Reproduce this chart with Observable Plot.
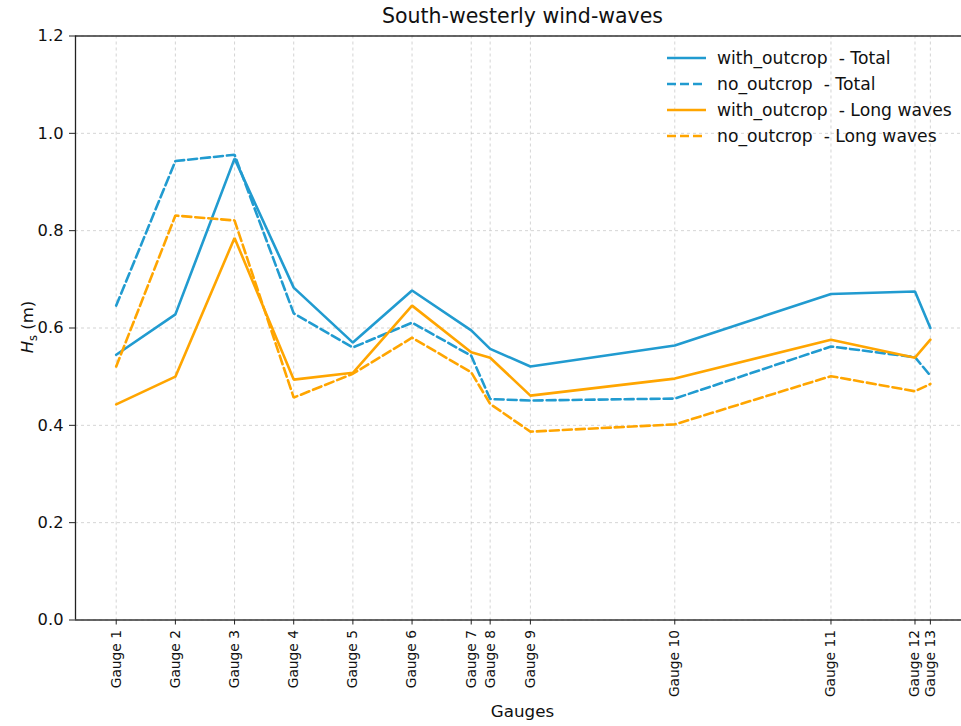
<!DOCTYPE html>
<html>
<head>
<meta charset="utf-8">
<script src="https://cdn.jsdelivr.net/npm/d3@7"></script>
<script src="https://cdn.jsdelivr.net/npm/@observablehq/plot@0.6"></script>
<style>
  body { margin: 0; background: #fff; font-family: "DejaVu Sans", sans-serif; }
  #wrap { position: relative; width: 961px; height: 726px; overflow: hidden; }
  #title { position: absolute; left: 75px; width: 895px; top: 4px; text-align: center; font-size: 20.5px; color: #111; }
  #ylab { position: absolute; left: 29px; top: 327px; transform: translate(-50%, -50%) rotate(-90deg); font-size: 16.5px; white-space: nowrap; color: #111; }
  #ylab sub { font-size: 11.5px; }
  #xlab { position: absolute; left: 75px; width: 895px; top: 701px; text-align: center; font-size: 16.7px; color: #111; }
  #legend { position: absolute; left: 667px; top: 45px; font-size: 17.2px; color: #111; }
  .row { height: 26px; display: flex; align-items: center; white-space: pre; }
  .row svg { margin-right: 11px; }
</style>
</head>
<body>
<div id="wrap">
  <div id="chart"></div>
  <div id="title">South-westerly wind-waves</div>
  <div id="ylab"><i>H</i><sub>s</sub> (m)</div>
  <div id="xlab">Gauges</div>
  <div id="legend"></div>
</div>
<script>
// ---- data ----
const gauges = ["Gauge 1","Gauge 2","Gauge 3","Gauge 4","Gauge 5","Gauge 6","Gauge 7","Gauge 8","Gauge 9","Gauge 10","Gauge 11","Gauge 12","Gauge 13"];
const gaugePos = [0, 1, 2, 3, 4, 5, 6, 6.32, 7, 9.44, 12.08, 13.5, 13.76];
const withOutcropTotal = [0.545, 0.628, 0.948, 0.683, 0.570, 0.677, 0.595, 0.557, 0.521, 0.564, 0.670, 0.675, 0.600];
const noOutcropTotal   = [0.646, 0.943, 0.956, 0.630, 0.560, 0.611, 0.543, 0.454, 0.451, 0.455, 0.562, 0.540, 0.502];
const withOutcropLong  = [0.443, 0.500, 0.785, 0.494, 0.508, 0.646, 0.550, 0.539, 0.461, 0.496, 0.576, 0.539, 0.576];
const noOutcropLong    = [0.521, 0.831, 0.821, 0.457, 0.506, 0.580, 0.509, 0.444, 0.387, 0.402, 0.501, 0.470, 0.485];
const yTicks = [0, 0.2, 0.4, 0.6, 0.8, 1.0, 1.2];
const seriesNames = ["with_outcrop  - Total", "no_outcrop  - Total", "with_outcrop  - Long waves", "no_outcrop  - Long waves"];

const BLUE = "#219bd0";
const ORANGE = "#ffa500";
const series = [
  {name: seriesNames[0], values: withOutcropTotal, color: BLUE, dash: null},
  {name: seriesNames[1], values: noOutcropTotal, color: BLUE, dash: "9,4"},
  {name: seriesNames[2], values: withOutcropLong, color: ORANGE, dash: null},
  {name: seriesNames[3], values: noOutcropLong, color: ORANGE, dash: "9,4"}
];
const nameAt = new Map(gaugePos.map((p, i) => [p, gauges[i]]));
const xMin = -0.688, xMax = 14.286;

const lineMarks = series.map(s => Plot.line(
  s.values.map((v, i) => ({x: gaugePos[i], y: v})),
  {x: "x", y: "y", stroke: s.color, strokeWidth: 2.6, strokeDasharray: s.dash || undefined, strokeLinejoin: "miter"}
));

const chart = Plot.plot({
  width: 961,
  height: 726,
  marginTop: 35.5,
  marginBottom: 106.5,
  marginLeft: 75,
  marginRight: 0,
  style: {fontFamily: "DejaVu Sans, sans-serif", color: "#111", background: "white"},
  x: {domain: [xMin, xMax]},
  y: {domain: [0, 1.2]},
  marks: [
    Plot.gridX(gaugePos, {stroke: "#bbb", strokeOpacity: 0.8, strokeDasharray: "3,3", strokeWidth: 0.8}),
    Plot.gridY(yTicks, {stroke: "#bbb", strokeOpacity: 0.8, strokeDasharray: "3,3", strokeWidth: 0.8}),
    ...lineMarks,
    Plot.ruleY([0, 1.2], {stroke: "#333", strokeWidth: 1.3}),
    Plot.ruleX([xMin], {stroke: "#222", strokeWidth: 1.3}),
    Plot.axisY({ticks: yTicks, tickFormat: d3.format(".1f"), tickSize: 6, tickPadding: 6, fontSize: 16.3, label: null, stroke: "#222"}),
    Plot.axisX({ticks: gaugePos, tickFormat: d => nameAt.get(d), tickRotate: -90, tickSize: 5, tickPadding: 5, fontSize: 13.8, label: null, stroke: "#222"})
  ]
});
document.getElementById("chart").appendChild(chart);

// legend
const leg = document.getElementById("legend");
series.forEach(s => {
  const row = document.createElement("div");
  row.className = "row";
  const dash = s.dash ? ` stroke-dasharray="9,4"` : "";
  row.innerHTML = `<svg width="39" height="6"><line x1="0" y1="3" x2="39" y2="3" stroke="${s.color}" stroke-width="2.6"${dash}/></svg><span>${s.name}</span>`;
  leg.appendChild(row);
});
</script>
</body>
</html>
